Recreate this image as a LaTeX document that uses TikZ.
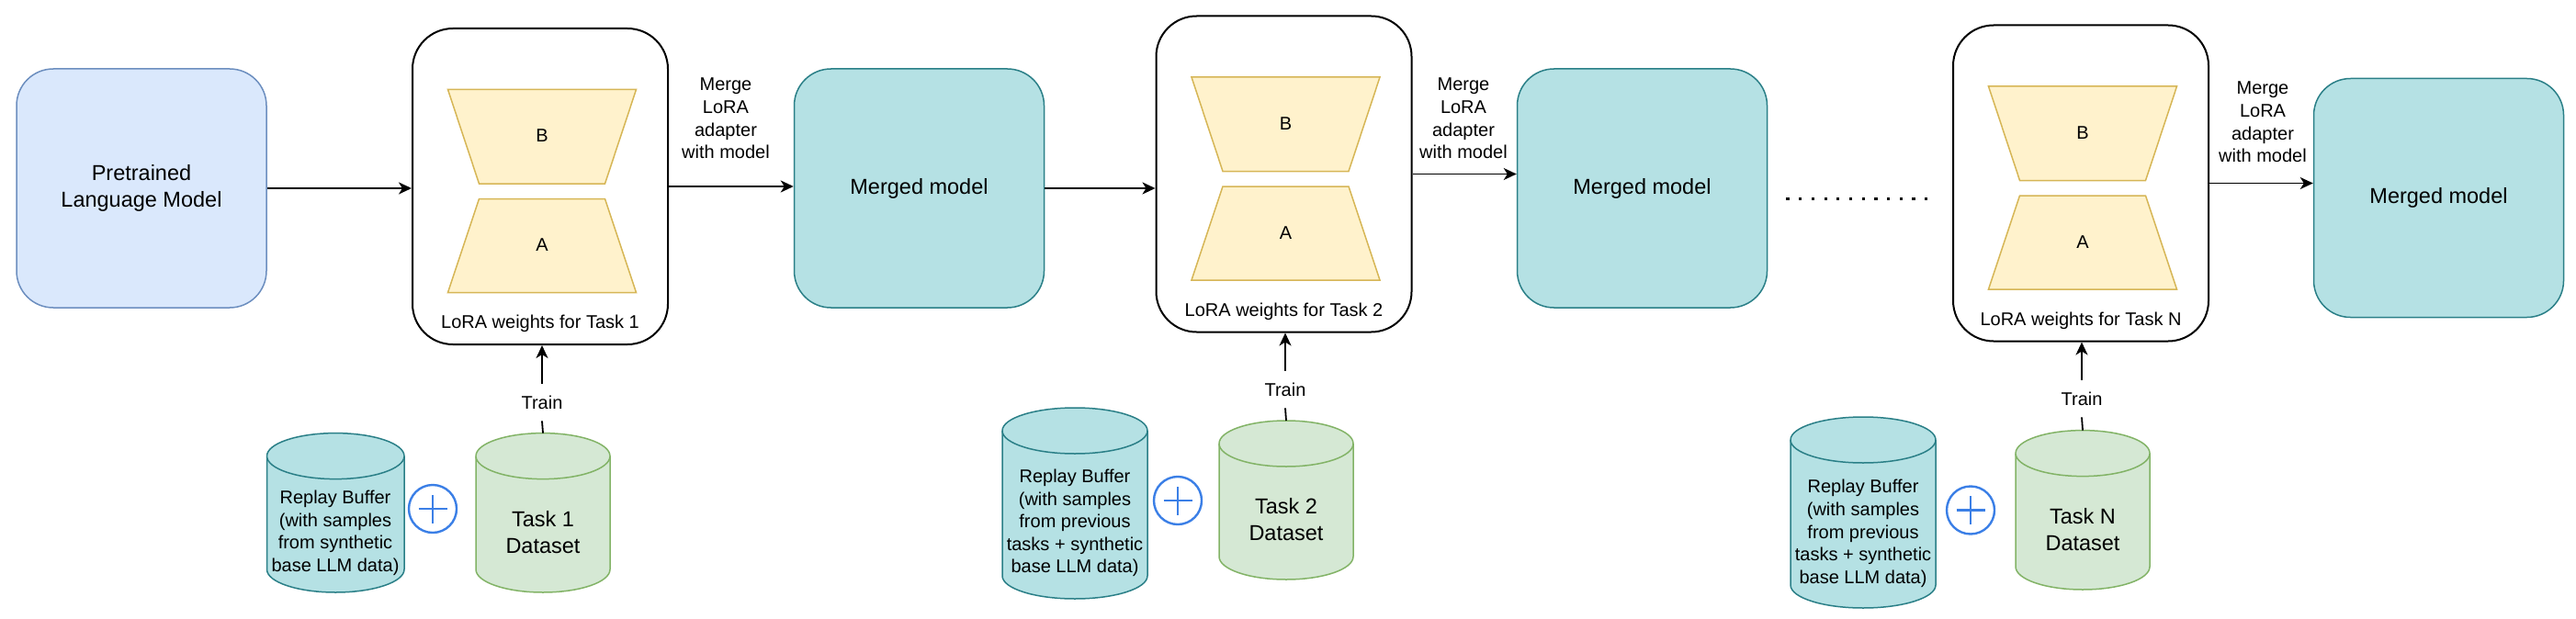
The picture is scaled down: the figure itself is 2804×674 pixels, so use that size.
\documentclass[tikz,border=0pt]{standalone}
\usepackage{fontspec}
\setmainfont{Liberation Sans}
\usetikzlibrary{arrows.meta}
\definecolor{plmfill}{HTML}{DAE8FC}
\definecolor{plmdraw}{HTML}{6C8EBF}
\definecolor{tealfill}{HTML}{B5E1E4}
\definecolor{tealdraw}{HTML}{2A7F87}
\definecolor{trapfill}{HTML}{FFF2CC}
\definecolor{trapdraw}{HTML}{D6B656}
\definecolor{dsfill}{HTML}{D5E8D4}
\definecolor{dsdraw}{HTML}{82B366}
\definecolor{plusblue}{HTML}{3B7FE6}
\tikzset{
 smalltext/.style={font=\fontsize{10}{12.3}\selectfont, align=center, inner sep=0pt},
 bigtext/.style={font=\fontsize{11.75}{14.5}\selectfont, align=center},
 modelbox/.style={draw, rounded corners=20pt, minimum width=136pt, minimum height=130pt, inner sep=0pt, line width=0.75pt, bigtext},
 plmbox/.style={modelbox, fill=plmfill, draw=plmdraw},
 mergedbox/.style={modelbox, fill=tealfill, draw=tealdraw},
 lorabox/.style={draw=black, line width=1pt, rounded corners=22pt, minimum width=139pt, minimum height=172pt, inner sep=0pt},
 trap/.style={fill=trapfill, draw=trapdraw, line width=0.75pt},
 dscyl/.style={fill=dsfill, draw=dsdraw, line width=0.75pt},
 replaycyl/.style={fill=tealfill, draw=tealdraw, line width=0.75pt},
 flow/.style={line width=0.9pt, -{Stealth[length=7pt,width=6.5pt,inset=2pt]}},
 plainline/.style={line width=0.9pt},
 trainlabel/.style={smalltext, minimum height=20pt},
 plussign/.style={circle, draw=plusblue, line width=1.2pt, minimum size=26pt, inner sep=0pt,
   path picture={\draw[plusblue, line width=1.2pt]
     ([xshift=-7.75pt]path picture bounding box.center) -- ([xshift=7.75pt]path picture bounding box.center)
     ([yshift=-7.75pt]path picture bounding box.center) -- ([yshift=7.75pt]path picture bounding box.center);}},
}
% LoRA block: name, cx, cy, task label
\newcommand\lorablock[4]{%
  \node[lorabox] (#1) at (#2,#3) {};
  \draw[trap] (#2+2-102.5,#3-105.5) -- (#2+2+102.5,#3-105.5) -- (#2+2+68.5,#3-3) -- (#2+2-68.5,#3-3) -- cycle;
  \draw[trap] (#2+2-68.5,#3+13.5) -- (#2+2+68.5,#3+13.5) -- (#2+2+102.5,#3+115.5) -- (#2+2-102.5,#3+115.5) -- cycle;
  \node[smalltext] (#1B) at (#2+2,#3-55) {B};
  \node[smalltext] (#1A) at (#2+2,#3+64) {A};
  \node[smalltext] (#1lab) at (#2,#3+149.5) {LoRA weights for Task #4};
}
% cylinder: name, x1, ytop, x2, ybottom, style
\newcommand\mycyl[6]{%
  \pgfmathsetmacro\cylrx{(#4-#2)/4}%
  \path[#6] (#2,#3+25) -- (#2,#5-25) arc[start angle=180,end angle=360,x radius=\cylrx pt,y radius=12.5pt]
     -- (#4,#3+25) arc[start angle=0,end angle=180,x radius=\cylrx pt,y radius=12.5pt] -- cycle;
  \draw[#6] (#2,#3+25) arc[start angle=180,end angle=360,x radius=\cylrx pt,y radius=12.5pt];
  \coordinate (#1-top) at ({(#2+#4)/2},#3);
}
\begin{document}
\begin{tikzpicture}[x=0.5pt,y=-0.5pt]
\useasboundingbox (0,0) rectangle (2804,674);
% top row
\node[plmbox] (plm) at (154,205) {Pretrained\\Language Model};
\lorablock{l1}{588}{203}{1}
\node[mergedbox] (m1) at (1000.5,205) {Merged model};
\lorablock{l2}{1397.5}{189.5}{2}
\node[mergedbox] (m2) at (1787.5,205) {Merged model};
\lorablock{lN}{2265}{199.5}{N}
\node[mergedbox] (m3) at (2654.5,215.5) {Merged model};
% dots
\foreach \i in {0,...,11} \fill ({1946+\i*13.7-1.6},215.1) rectangle ++(3.2,3.2);
% horizontal arrows
\draw[flow] (plm.east) -- (plm.east -| l1.west);
\draw[flow] (l1.east) -- (l1.east -| m1.west);
\draw[flow] (m1.east) -- (m1.east -| l2.west);
\draw[flow] (l2.east) -- (l2.east -| m2.west);
\draw[flow] (lN.east) -- (lN.east -| m3.west);
% merge labels
\node[smalltext] (mg1) at (790,129) {Merge\\LoRA\\adapter\\with model};
\node[smalltext] (mg2) at (1593,129) {Merge\\LoRA\\adapter\\with model};
\node[smalltext] (mg3) at (2463,133) {Merge\\LoRA\\adapter\\with model};
% bottom: task 1
\mycyl{r1}{290.5}{471.6}{440}{645}{replaycyl}
\node[smalltext] (r1t) at (365,580.5) {Replay Buffer\\(with samples\\from synthetic\\base LLM data)};
\node[plussign] (p1) at (471,554) {};
\mycyl{d1}{518}{471.6}{664}{645}{dscyl}
\node[bigtext] (d1t) at (591,580) {Task 1\\Dataset};
\node[trainlabel] (t1) at (590,438) {Train};
\draw[plainline] (d1-top) -- (t1.south);
\draw[flow] (t1.north) -- (t1.north |- l1.south);
% task 2
\mycyl{r2}{1091}{444}{1249}{652}{replaycyl}
\node[smalltext] (r2t) at (1170,569.5) {Replay Buffer\\(with samples\\from previous\\tasks + synthetic\\base LLM data)};
\node[plussign] (p2) at (1282,545) {};
\mycyl{d2}{1327}{458}{1473}{631}{dscyl}
\node[bigtext] (d2t) at (1400,566) {Task 2\\Dataset};
\node[trainlabel] (t2) at (1399,424) {Train};
\draw[plainline] (d2-top) -- (t2.south);
\draw[flow] (t2.north) -- (t2.north |- l2.south);
% task N
\mycyl{rN}{1949}{454}{2107}{662}{replaycyl}
\node[smalltext] (rNt) at (2028,581) {Replay Buffer\\(with samples\\from previous\\tasks + synthetic\\base LLM data)};
\node[plussign] (pN) at (2145,555.5) {};
\mycyl{dN}{2194}{468.6}{2340}{642}{dscyl}
\node[bigtext] (dNt) at (2267,576.5) {Task N\\Dataset};
\node[trainlabel] (tN) at (2266,434) {Train};
\draw[plainline] (dN-top) -- (tN.south);
\draw[flow] (tN.north) -- (tN.north |- lN.south);
\end{tikzpicture}
\end{document}
